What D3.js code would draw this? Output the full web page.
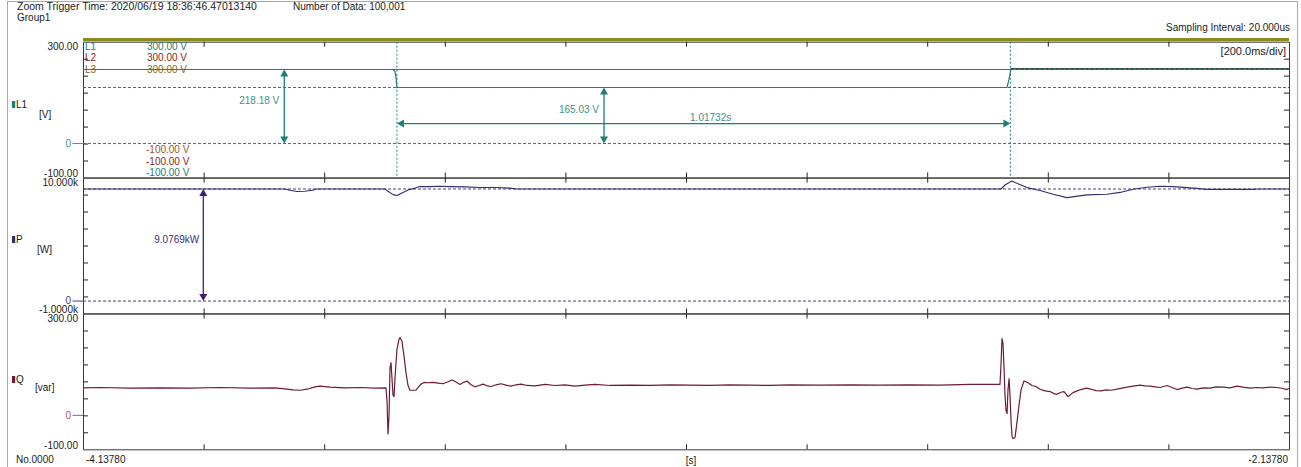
<!DOCTYPE html>
<html><head><meta charset="utf-8">
<script src="https://cdn.jsdelivr.net/npm/d3@7"></script>
<style>body{margin:0;background:#fff;}svg{display:block;font-family:"Liberation Sans",Arial,sans-serif;}</style>
</head><body><svg id="c" width="1301" height="467"></svg>
<script>
// ---------------- DATA ----------------
const xDomain = [-4.13780, -2.13780];
const xDivision = 0.2;               // 200.0 ms/div
const xEndLabels = ["-4.13780", "-2.13780"];
const xUnitLabel = "[s]";
const recordLabel = "No.0000";
const headerTrigger = "Zoom Trigger Time: 2020/06/19 18:36:46.47013140";
const headerGroup = "Group1";
const headerCount = "Number of Data: 100,001";
const headerSampling = "Sampling Interval:  20.000us";
const timeDivLabel = "[200.0ms/div]";

const panelNames = ["L1", "P", "Q"];
const panelUnits = ["[V]", "[W]", "[var]"];
const panelMin = [-100, -1, -100];
const panelMax = [300, 10, 300];
const topTickLabels = ["300.00", "10.000k", "300.00"];
const bottomTickLabels = ["-100.00", "-1.0000k", "-100.00"];
const zeroTickLabels = ["0", "0", "0"];

const legendNames = ["L1", "L2", "L3"];
const legendUpper = ["300.00 V", "300.00 V", "300.00 V"];
const legendLower = ["-100.00 V", "-100.00 V", "-100.00 V"];

// L1 voltage [V]
const l1Time = [-4.1378, -3.6237, -3.6204, -3.6187, -3.6171, -2.6054, -2.6021, -2.5988, -2.1378];
const l1Value = [218.18, 218.18, 212, 195, 165.03, 165.03, 190, 220.5, 220.5];
// L2 / L3 only visible after the recovery (elsewhere hidden under L1)
const l2Time = [-2.5988, -2.1378];
const l2Value = [221, 221];
const l3Time = [-2.5988, -2.1378];
const l3Value = [220, 220];

// Active power P [kW]
const pTime = [-4.1378, -3.8028, -3.7945, -3.7829, -3.7696, -3.7580, -3.7497, -3.6370, -3.6320, -3.6237,
  -3.6171, -3.6088, -3.5988, -3.5872, -3.5789, -3.5623, -3.5458, -3.5292, -3.5043, -3.4794, -3.4545,
  -3.4297, -3.4181, -2.6154, -2.6088, -2.5976, -2.5872, -2.5723, -2.5507, -2.5291, -2.5059, -2.4728,
  -2.4396, -2.4180, -2.3965, -2.3733, -2.3517, -2.3301, -2.3069, -2.2903, -2.2738, -2.1958, -2.1892, -2.1378];
const pValue = [9.077, 9.077, 8.97, 8.88, 8.9, 8.97, 9.077, 9.077, 8.9, 8.62,
  8.55, 8.75, 9.0, 9.15, 9.28, 9.27, 9.3, 9.27, 9.25, 9.2, 9.2,
  9.15, 9.077, 9.077, 9.4, 9.73, 9.5, 9.19, 8.95, 8.65, 8.38, 8.6,
  8.65, 8.8, 9.05, 9.22, 9.3, 9.27, 9.19, 9.13, 9.05, 9.05, 9.077, 9.077];

// Reactive power Q [var]
const qTime = [-4.1378, -4.1096, -4.0599, -4.0101, -3.9604, -3.9106, -3.8608, -3.8194, -3.8028, -3.7895,
  -3.7779, -3.7663, -3.7531, -3.7448, -3.7282, -3.7033, -3.6784, -3.6535, -3.6353, -3.6336,
  -3.6320, -3.6303, -3.6287, -3.6270, -3.6254, -3.6237, -3.6220, -3.6204, -3.6171, -3.6137,
  -3.6121, -3.6088, -3.6055, -3.6021, -3.5988, -3.5955, -3.5856, -3.5822, -3.5773, -3.5723,
  -3.5657, -3.5574, -3.5491, -3.5408, -3.5325, -3.5258, -3.5192, -3.5126, -3.5060, -3.5010,
  -3.4943, -3.4877, -3.4811, -3.4744, -3.4678, -3.4612, -3.4529, -3.4446, -3.4363, -3.4280,
  -3.4197, -3.4114, -3.4015, -3.3882, -3.3716, -3.3550, -3.3385, -3.3219, -3.3053, -3.2887,
  -3.2638, -3.2307, -3.1975, -3.1643, -3.1312, -3.0980, -3.0648, -3.0316, -2.9985, -2.9653,
  -2.9156, -2.8658, -2.8161, -2.7663, -2.7166, -2.6668, -2.6171, -2.6154, -2.6138, -2.6121,
  -2.6104, -2.6088, -2.6071, -2.6054, -2.6038, -2.6021, -2.6005, -2.5988, -2.5971, -2.5955,
  -2.5922, -2.5889, -2.5855, -2.5822, -2.5773, -2.5706, -2.5640, -2.5573, -2.5507, -2.5424,
  -2.5341, -2.5275, -2.5225, -2.5159, -2.5109, -2.5043, -2.4960, -2.4893, -2.4827, -2.4744,
  -2.4661, -2.4578, -2.4495, -2.4413, -2.4330, -2.4230, -2.4147, -2.4064, -2.3965, -2.3849,
  -2.3766, -2.3683, -2.3600, -2.3517, -2.3401, -2.3318, -2.3235, -2.3152, -2.3069, -2.2987,
  -2.2903, -2.2804, -2.2688, -2.2588, -2.2472, -2.2356, -2.2240, -2.2141, -2.2024, -2.1908,
  -2.1809, -2.1693, -2.1577, -2.1477, -2.1411, -2.1378];
const qValue = [81, 82, 80, 81, 80, 82, 80, 81, 78, 75,
  74, 77, 84, 86, 83, 81, 82, 80, 81, 40,
  -55, 0, 140, 155, 110, 60, 55, 110, 195, 224,
  229, 218, 175, 125, 88, 74, 74, 82, 92, 97,
  96, 97, 95, 93, 99, 104, 98, 91, 98, 101,
  90, 84, 88, 92, 87, 85, 90, 93, 89, 86,
  90, 92, 88, 87, 91, 88, 90, 86, 89, 91,
  88, 89, 88, 90, 89, 88, 90, 89, 88, 90,
  89, 90, 89, 90, 89, 91, 91, 150, 226, 212,
  140, 60, 15, 5, 75, 108, 60, -15, -62, -68,
  -66, -20, 30, 75, 101, 96, 88, 85, 77, 72,
  70, 64, 62, 68, 70, 55, 67, 72, 76, 80,
  77, 73, 72, 75, 74, 77, 80, 83, 86, 89,
  87, 86, 84, 82, 88, 82, 76, 80, 83, 79,
  77, 81, 80, 84, 83, 81, 86, 83, 80, 82,
  81, 83, 82, 79, 76, 80];

// Cursors / measurements
const cursorTimes = [-3.6172, -2.59988];
const cursorDeltaLabel = "1.01732s";
const l1CursorLevels = [218.18, 165.03, 0];
const l1DeltaLabels = ["218.18 V", "165.03 V"];
const pCursorLevels = [9.0769, 0];
const pDeltaLabel = "9.0769kW";
const arrowTimes = [-3.8040, -3.2738, -3.9383];   // vertical measurement arrows
const hArrowLevel = 58.9;                           // V

// ---------------- LAYOUT / STYLE ----------------
const W = 1301, H = 467;
const L = 83, R = 1289;
const tops = [41.7, 177.6, 313.5];
const PH = 135.8;
const cTeal = "#1d7d7a", cTealTxt = "#3f918e", cRed = "#8a1f22", cOlive = "#8a6d25";
const cP = "#3a286f", cQ = "#6f1a3a", cQtxt = "#a05a7a";
const panelColors = [cTeal, cP, cQ];
const zeroColors = [cTealTxt, "#4a3a8a", cQtxt];
const font = '"Liberation Sans", Arial, sans-serif';

const svg = d3.select("#c");
svg.append("rect").attr("width", W).attr("height", H).attr("fill", "#fff");

// outer frame
svg.append("rect").attr("x", 7.5).attr("y", 1.5).attr("width", 1290).attr("height", 480)
  .attr("fill", "none").attr("stroke", "#a8a8a8");

const txt = (x, y, s, opt = {}) => svg.append("text").attr("x", x).attr("y", y)
  .attr("font-size", opt.size || 10).attr("fill", opt.fill || "#222")
  .attr("text-anchor", opt.anchor || "start").attr("font-family", font).text(s);

txt(17, 10, headerTrigger, {size: 10.5});
txt(17, 20.5, headerGroup, {size: 10});
txt(293, 10, headerCount);
txt(1290, 31, headerSampling, {anchor: "end"});

// olive bar on top
svg.append("rect").attr("x", L).attr("y", 38).attr("width", R - L).attr("height", 3.2).attr("fill", "#8c8a1f");

const x = d3.scaleLinear().domain(xDomain).range([L, R]);
const xTicks = d3.range(1, 10).map(i => xDomain[0] + i * xDivision);

const ys = [];
panelNames.forEach((name, i) => {
  const top = tops[i], bot = top + PH;
  const y = d3.scaleLinear().domain([panelMin[i], panelMax[i]]).range([bot, top]);
  ys.push(y);
  const yTicks = d3.range(1, 8).map(k => panelMin[i] + k * (panelMax[i] - panelMin[i]) / 8);
  const g = svg.append("g").attr("class", "axes");
  g.append("g").attr("transform", `translate(${L},0)`)
    .call(d3.axisLeft(y).tickValues(yTicks).tickSize(-5).tickSizeOuter(0).tickFormat(""));
  g.append("g").attr("transform", `translate(${R},0)`)
    .call(d3.axisRight(y).tickValues(yTicks).tickSize(-5).tickSizeOuter(0).tickFormat(""));
  g.append("g").attr("transform", `translate(0,${top})`)
    .call(d3.axisBottom(x).tickValues(xTicks).tickSize(5).tickSizeOuter(0).tickFormat(""));
  g.append("g").attr("transform", `translate(0,${bot})`)
    .call(d3.axisTop(x).tickValues(xTicks).tickSize(5).tickSizeOuter(0).tickFormat(""));
  g.selectAll("path.domain").attr("stroke", "#3a3a3a");
  g.selectAll(".tick line").attr("stroke", "#222");

  // tick labels
  txt(78, top + 8.5, topTickLabels[i], {anchor: "end"});
  txt(78, bot - 0.5, bottomTickLabels[i], {anchor: "end"});
  svg.append("line").attr("x1", 72.5).attr("x2", L).attr("y1", y(0)).attr("y2", y(0))
    .attr("stroke", zeroColors[i]);
  txt(71, y(0) + 3.3, zeroTickLabels[i], {anchor: "end", fill: zeroColors[i]});

  // names & units
  const nameY = [108, 243, 383][i];
  svg.append("rect").attr("x", 12).attr("y", nameY - 7).attr("width", 3.2).attr("height", 7).attr("fill", panelColors[i]);
  txt(16, nameY, name);
  txt([39, 37, 35][i], [118, 253, 391][i], panelUnits[i]);
});

const [yL1, yP, yQ] = ys;

// L1 legend
const legColors = [cTeal, cRed, cOlive];
legendNames.forEach((n, k) => {
  txt(85, 49.5 + k * 11.7, n, {fill: legColors[k]});
  txt(147, 49.5 + k * 11.7, legendUpper[k], {fill: legColors[k]});
});
[cOlive, cRed, cTeal].forEach((c, k) => {
  txt(146, 153 + k * 11.5, legendLower[k], {fill: c === cOlive ? "#94562c" : c});
});

txt(1286, 55, timeDivLabel, {anchor: "end", size: 11});

// cursors L1
svg.append("line").attr("x1", L).attr("x2", R).attr("y1", yL1(l1CursorLevels[0])).attr("y2", yL1(l1CursorLevels[0]))
  .attr("stroke", cTeal).attr("stroke-width", 1);
l1CursorLevels.slice(1).forEach(v => {
  svg.append("line").attr("x1", L).attr("x2", R).attr("y1", yL1(v)).attr("y2", yL1(v))
    .attr("stroke", cTeal).attr("stroke-dasharray", "3,2");
});
cursorTimes.forEach(t => {
  svg.append("line").attr("x1", x(t)).attr("x2", x(t)).attr("y1", tops[0]).attr("y2", tops[0] + PH)
    .attr("stroke", cTeal).attr("stroke-dasharray", "2,2");
});
// cursors P
pCursorLevels.forEach(v => {
  svg.append("line").attr("x1", L).attr("x2", R).attr("y1", yP(v)).attr("y2", yP(v))
    .attr("stroke", "#4b3b8a").attr("stroke-dasharray", "3,2");
});

// waveforms
const drawLine = (times, vals, y, color, w, dash) => {
  const line = d3.line().x(d => x(d[0])).y(d => y(d[1]));
  const p = svg.append("path").datum(times.map((t, k) => [t, vals[k]])).attr("d", line)
    .attr("fill", "none").attr("stroke", color).attr("stroke-width", w).attr("stroke-linejoin", "round");
  if (dash) p.attr("stroke-dasharray", dash);
  return p;
};
drawLine(l1Time, l1Value, yL1, cTeal, 1.2);
drawLine(l3Time, l3Value, yL1, "#5f5a2a", 1.2, "3,2");
drawLine(l2Time, l2Value, yL1, "#4a2a2a", 1, "2,3");
drawLine(pTime, pValue, yP, cP, 1.1);
drawLine(qTime, qValue, yQ, cQ, 1.2);

// arrows
const arrowV = (xp, y1, y2, color) => {
  svg.append("line").attr("x1", xp).attr("x2", xp).attr("y1", y1 + 5).attr("y2", y2 - 5)
    .attr("stroke", color).attr("stroke-width", 1.3);
  svg.append("path").attr("d", `M${xp},${y1} L${xp - 4},${y1 + 7} L${xp + 4},${y1 + 7} Z`).attr("fill", color);
  svg.append("path").attr("d", `M${xp},${y2} L${xp - 4},${y2 - 7} L${xp + 4},${y2 - 7} Z`).attr("fill", color);
};
const arrowH = (x1, x2, yp, color) => {
  svg.append("line").attr("x1", x1 + 5).attr("x2", x2 - 5).attr("y1", yp).attr("y2", yp)
    .attr("stroke", color).attr("stroke-width", 1.3);
  svg.append("path").attr("d", `M${x1},${yp} L${x1 + 7},${yp - 4} L${x1 + 7},${yp + 4} Z`).attr("fill", color);
  svg.append("path").attr("d", `M${x2},${yp} L${x2 - 7},${yp - 4} L${x2 - 7},${yp + 4} Z`).attr("fill", color);
};
arrowV(x(arrowTimes[0]), yL1(l1CursorLevels[0]), yL1(0), cTeal);
arrowV(x(arrowTimes[1]), yL1(l1CursorLevels[1]), yL1(0), cTeal);
arrowH(x(cursorTimes[0]), x(cursorTimes[1]), yL1(hArrowLevel), cTeal);
arrowV(x(arrowTimes[2]), yP(pCursorLevels[0]), yP(0), "#3b2078");

txt(x(arrowTimes[0]) - 5, 104, l1DeltaLabels[0], {anchor: "end", fill: cTealTxt});
txt(x(arrowTimes[1]) - 5, 113, l1DeltaLabels[1], {anchor: "end", fill: cTealTxt});
txt((x(cursorTimes[0]) + x(cursorTimes[1])) / 2 + 7, yL1(hArrowLevel) - 2.5, cursorDeltaLabel, {anchor: "middle", fill: cTealTxt});
txt(x(arrowTimes[2]) - 4, 243, pDeltaLabel, {anchor: "end", fill: "#3a2d78"});

// bottom labels
txt(16, 463, recordLabel);
txt(86, 463, xEndLabels[0]);
txt(691, 464, xUnitLabel, {anchor: "middle"});
txt(1288, 463, xEndLabels[1], {anchor: "end"});
</script></body></html>
